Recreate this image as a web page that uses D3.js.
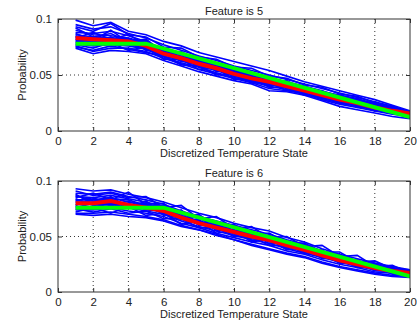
<!DOCTYPE html>
<html><head><meta charset="utf-8">
<script src="https://cdn.jsdelivr.net/npm/d3@7/dist/d3.min.js"></script>
<style>body{margin:0;background:#fff}svg{display:block}text{font-family:"Liberation Sans",Arial,sans-serif;fill:#222}</style>
</head><body><svg id="c" width="417" height="326"></svg>
<script>
const states = d3.range(1, 21);
const xTicks = [0,2,4,6,8,10,12,14,16,18,20];
const yTicks = [0, 0.05, 0.1];
const yTickLabels = ["0", "0.05", "0.1"];
const titles = ["Feature is 5", "Feature is 6"];
const xLabel = "Discretized Temperature State";
const yLabel = "Probability";

// Feature 5: sampled curves (blue), mean (red), fitted (green breakpoints)
const blue5 = [
 [0.099,0.094,0.097,0.089,0.086,0.080,0.076,0.070,0.066,0.062,0.058,0.054,0.049,0.044,0.040,0.036,0.032,0.028,0.023,0.018],
 [0.095,0.091,0.093,0.087,0.083,0.077,0.072,0.067,0.063,0.058,0.054,0.050,0.046,0.042,0.038,0.034,0.030,0.026,0.022,0.017],
 [0.088,0.087,0.089,0.085,0.080,0.073,0.069,0.064,0.060,0.055,0.051,0.048,0.043,0.040,0.036,0.031,0.028,0.024,0.020,0.017],
 [0.086,0.084,0.083,0.082,0.078,0.071,0.067,0.062,0.058,0.053,0.049,0.046,0.042,0.038,0.034,0.030,0.027,0.023,0.019,0.016],
 [0.084,0.083,0.080,0.081,0.077,0.070,0.066,0.061,0.057,0.052,0.048,0.044,0.041,0.037,0.033,0.029,0.026,0.022,0.019,0.016],
 [0.082,0.081,0.082,0.079,0.075,0.068,0.064,0.060,0.055,0.051,0.046,0.043,0.039,0.035,0.031,0.027,0.024,0.020,0.017,0.015],
 [0.080,0.079,0.078,0.078,0.074,0.067,0.063,0.058,0.054,0.049,0.045,0.042,0.038,0.034,0.030,0.026,0.023,0.020,0.017,0.014],
 [0.078,0.076,0.077,0.076,0.073,0.066,0.061,0.057,0.052,0.048,0.044,0.040,0.037,0.033,0.029,0.025,0.022,0.019,0.016,0.014],
 [0.076,0.071,0.074,0.074,0.071,0.065,0.060,0.055,0.051,0.047,0.043,0.038,0.036,0.033,0.028,0.024,0.021,0.018,0.015,0.013],
 [0.074,0.069,0.072,0.071,0.069,0.063,0.058,0.053,0.049,0.045,0.042,0.036,0.035,0.032,0.027,0.022,0.019,0.016,0.013,0.011],
 [0.090,0.086,0.085,0.083,0.079,0.072,0.068,0.063,0.059,0.054,0.050,0.047,0.044,0.040,0.035,0.032,0.029,0.024,0.021,0.017],
 [0.081,0.080,0.080,0.080,0.076,0.069,0.065,0.059,0.056,0.050,0.047,0.044,0.040,0.036,0.032,0.028,0.024,0.021,0.018,0.015],
 [0.085,0.078,0.084,0.077,0.074,0.070,0.062,0.061,0.054,0.052,0.045,0.045,0.039,0.037,0.031,0.029,0.023,0.022,0.017,0.016],
 [0.079,0.083,0.079,0.083,0.072,0.071,0.066,0.059,0.057,0.050,0.048,0.041,0.041,0.035,0.033,0.027,0.025,0.020,0.018,0.014],
 [0.093,0.089,0.096,0.086,0.084,0.075,0.074,0.066,0.064,0.057,0.056,0.049,0.047,0.041,0.039,0.033,0.031,0.025,0.022,0.016],
 [0.077,0.074,0.079,0.072,0.075,0.064,0.064,0.055,0.056,0.046,0.047,0.039,0.039,0.032,0.031,0.025,0.024,0.018,0.018,0.013],
 [0.087,0.081,0.090,0.079,0.081,0.068,0.070,0.058,0.060,0.049,0.050,0.040,0.043,0.034,0.036,0.026,0.029,0.019,0.021,0.013],
 [0.083,0.088,0.082,0.086,0.077,0.074,0.063,0.064,0.053,0.055,0.044,0.047,0.038,0.039,0.030,0.032,0.022,0.025,0.016,0.016],
 [0.092,0.084,0.087,0.080,0.082,0.070,0.071,0.062,0.057,0.056,0.048,0.042,0.045,0.036,0.034,0.031,0.025,0.026,0.019,0.015],
 [0.075,0.072,0.076,0.073,0.070,0.067,0.059,0.058,0.050,0.051,0.043,0.043,0.036,0.036,0.029,0.030,0.021,0.022,0.016,0.012]
];
const red5 = [0.083,0.082,0.081,0.080,0.076,0.069,0.065,0.060,0.056,0.051,0.047,0.044,0.040,0.036,0.032,0.028,0.025,0.021,0.018,0.0155];
const greenX5 = [1, 5, 20];
const greenY5 = [0.078, 0.078, 0.0125];

// Feature 6
const blue6 = [
 [0.093,0.091,0.092,0.088,0.085,0.081,0.076,0.071,0.067,0.062,0.058,0.055,0.049,0.045,0.039,0.034,0.030,0.026,0.023,0.020],
 [0.089,0.088,0.090,0.086,0.083,0.079,0.073,0.068,0.064,0.060,0.056,0.052,0.047,0.043,0.037,0.032,0.028,0.024,0.022,0.019],
 [0.086,0.085,0.087,0.084,0.081,0.077,0.071,0.066,0.062,0.058,0.054,0.050,0.045,0.041,0.036,0.031,0.027,0.023,0.021,0.018],
 [0.083,0.083,0.085,0.081,0.079,0.075,0.069,0.064,0.060,0.056,0.052,0.048,0.044,0.040,0.035,0.030,0.026,0.022,0.020,0.018],
 [0.081,0.081,0.083,0.079,0.077,0.074,0.068,0.063,0.059,0.055,0.051,0.047,0.043,0.039,0.034,0.029,0.025,0.022,0.019,0.017],
 [0.079,0.079,0.081,0.078,0.075,0.072,0.066,0.061,0.057,0.053,0.049,0.046,0.041,0.037,0.032,0.028,0.024,0.021,0.019,0.016],
 [0.077,0.077,0.079,0.076,0.073,0.070,0.064,0.059,0.055,0.051,0.047,0.044,0.039,0.035,0.031,0.027,0.023,0.020,0.018,0.016],
 [0.074,0.074,0.076,0.073,0.071,0.068,0.062,0.058,0.053,0.049,0.045,0.042,0.037,0.034,0.029,0.025,0.022,0.018,0.017,0.015],
 [0.071,0.071,0.072,0.070,0.068,0.065,0.060,0.056,0.052,0.047,0.043,0.039,0.035,0.032,0.027,0.023,0.020,0.017,0.015,0.014],
 [0.070,0.069,0.070,0.068,0.067,0.064,0.059,0.056,0.051,0.047,0.042,0.038,0.034,0.031,0.026,0.022,0.019,0.016,0.014,0.013],
 [0.087,0.082,0.084,0.083,0.078,0.078,0.070,0.067,0.058,0.059,0.050,0.051,0.042,0.042,0.033,0.033,0.025,0.025,0.020,0.019],
 [0.076,0.080,0.078,0.080,0.074,0.073,0.067,0.061,0.061,0.052,0.052,0.045,0.044,0.036,0.035,0.027,0.026,0.020,0.020,0.016],
 [0.084,0.078,0.080,0.077,0.080,0.071,0.072,0.062,0.060,0.054,0.053,0.046,0.045,0.038,0.036,0.029,0.027,0.021,0.021,0.017],
 [0.078,0.084,0.081,0.079,0.078,0.070,0.066,0.065,0.056,0.054,0.048,0.047,0.040,0.040,0.032,0.031,0.023,0.023,0.018,0.018],
 [0.091,0.087,0.089,0.085,0.086,0.076,0.078,0.066,0.068,0.057,0.059,0.049,0.050,0.041,0.042,0.032,0.033,0.023,0.024,0.017],
 [0.072,0.076,0.071,0.077,0.069,0.071,0.061,0.064,0.053,0.056,0.045,0.048,0.038,0.040,0.030,0.031,0.022,0.023,0.016,0.016],
 [0.085,0.089,0.083,0.090,0.079,0.080,0.068,0.070,0.059,0.061,0.051,0.053,0.044,0.044,0.036,0.036,0.027,0.028,0.021,0.020],
 [0.075,0.072,0.075,0.071,0.073,0.066,0.066,0.058,0.058,0.050,0.050,0.042,0.042,0.035,0.034,0.026,0.026,0.019,0.019,0.014],
 [0.082,0.085,0.078,0.082,0.075,0.077,0.065,0.069,0.055,0.059,0.046,0.051,0.039,0.043,0.031,0.034,0.024,0.026,0.018,0.019],
 [0.088,0.079,0.086,0.076,0.082,0.069,0.074,0.060,0.062,0.050,0.055,0.043,0.046,0.036,0.038,0.028,0.029,0.022,0.022,0.015]
];
const red6 = [0.080,0.080,0.082,0.0785,0.076,0.073,0.067,0.062,0.058,0.054,0.050,0.0467,0.042,0.038,0.033,0.0285,0.025,0.0215,0.019,0.017];
const greenX6 = [1, 6, 20];
const greenY6 = [0.076, 0.076, 0.0142];

const panels = [
  {title: titles[0], blue: blue5, red: red5, gx: greenX5, gy: greenY5, top: 19, bottom: 131},
  {title: titles[1], blue: blue6, red: red6, gx: greenX6, gy: greenY6, top: 181, bottom: 292}
];
const left = 58, right = 410;
const svg = d3.select("#c");

panels.forEach(p => {
  const x = d3.scaleLinear().domain([0, 20]).range([left, right]);
  const y = d3.scaleLinear().domain([0, 0.1]).range([p.bottom, p.top]);
  const g = svg.append("g");
  const clipId = "clip" + p.top;
  svg.append("clipPath").attr("id", clipId).append("rect")
    .attr("x", left).attr("y", p.top).attr("width", right-left).attr("height", p.bottom-p.top);

  // grid
  g.selectAll(".gx").data(xTicks.slice(1, -1)).enter().append("line")
    .attr("x1", d => x(d)).attr("x2", d => x(d)).attr("y1", p.top).attr("y2", p.bottom)
    .attr("stroke", "#333").attr("stroke-width", 1).attr("stroke-dasharray", "1,3");
  g.selectAll(".gy").data(yTicks.slice(1, -1)).enter().append("line")
    .attr("x1", left).attr("x2", right).attr("y1", d => y(d)).attr("y2", d => y(d))
    .attr("stroke", "#333").attr("stroke-width", 1).attr("stroke-dasharray", "1,3");

  const line = d3.line().x((d, i) => x(states[i])).y(d => y(d));
  const data = g.append("g").attr("clip-path", `url(#${clipId})`);
  data.selectAll(".b").data(p.blue).enter().append("path")
    .attr("d", line).attr("fill", "none").attr("stroke", "#0000ff").attr("stroke-width", 1.6);
  data.append("path").datum(p.red).attr("d", line).attr("fill", "none")
    .attr("stroke", "#ff0000").attr("stroke-width", 4);
  const gl = d3.line().x((d, i) => x(p.gx[i])).y(d => y(d));
  data.append("path").datum(p.gy).attr("d", gl).attr("fill", "none")
    .attr("stroke", "#00ff00").attr("stroke-width", 4);

  // frame
  g.append("rect").attr("x", left).attr("y", p.top).attr("width", right-left).attr("height", p.bottom-p.top)
    .attr("fill", "none").attr("stroke", "#333").attr("stroke-width", 1);

  // axes with inward ticks
  const xa = d3.axisBottom(x).tickValues(xTicks).tickSize(-4).tickPadding(6).tickFormat(d3.format("d"));
  const xg = g.append("g").attr("transform", `translate(0,${p.bottom})`).call(xa);
  const xt = g.append("g").attr("transform", `translate(0,${p.top})`).call(d3.axisTop(x).tickValues(xTicks).tickSize(-4).tickFormat(""));
  const ya = d3.axisLeft(y).tickValues(yTicks).tickSize(-4).tickPadding(6).tickFormat((d, i) => yTickLabels[i]);
  const yg = g.append("g").attr("transform", `translate(${left},0)`).call(ya);
  const yr = g.append("g").attr("transform", `translate(${right},0)`).call(d3.axisRight(y).tickValues(yTicks).tickSize(-4).tickFormat(""));
  [xg, xt, yg, yr].forEach(a => {
    a.select(".domain").remove();
    a.selectAll("line").attr("stroke", "#333");
    a.selectAll("text").attr("font-size", 11.5).attr("fill", "#222").style("font-family", '"Liberation Sans",Arial,sans-serif');
  });

  g.append("text").attr("x", (left+right)/2).attr("y", p.top - 4).attr("text-anchor", "middle")
    .attr("font-size", 11).text(p.title);
  g.append("text").attr("x", (left+right)/2).attr("y", p.bottom + 26).attr("text-anchor", "middle")
    .attr("font-size", 11).text(xLabel);
  g.append("text").attr("transform", `translate(26,${(p.top+p.bottom)/2}) rotate(-90)`).attr("text-anchor", "middle")
    .attr("font-size", 11).text(yLabel);
});
</script></body></html>
